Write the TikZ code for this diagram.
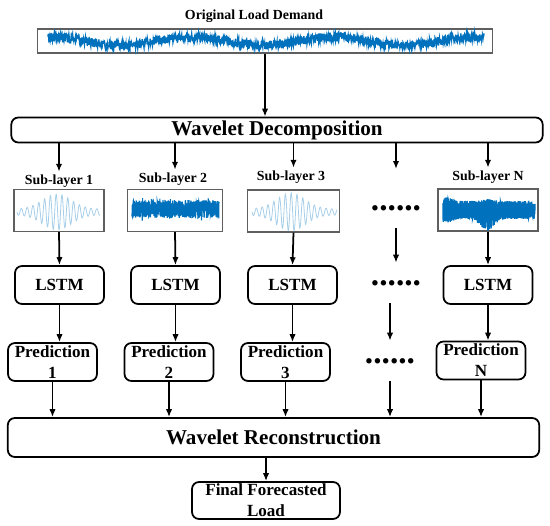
\documentclass[tikz,border=0pt]{standalone}
\usepackage{fontspec}
\setmainfont{Liberation Serif}
\usetikzlibrary{arrows.meta,positioning,calc}
\definecolor{sigblue}{RGB}{0,114,189}
\definecolor{sigframe}{RGB}{95,95,95}
\begin{document}
\begin{tikzpicture}[x=0.02cm,y=-0.02cm,font=\bfseries,
  rec/.style={draw,line width=1pt,rounded corners=4pt,inner sep=0pt,minimum width=1.78cm,minimum height=0.76cm,align=center,font=\fontsize{9.7}{11.9}\selectfont\bfseries},
  wide/.style={rec,minimum width=10.63cm,font=\fontsize{12}{14}\selectfont\bfseries},
  sigbox/.style={draw=sigframe,line width=0.6pt,inner sep=0pt,minimum height=0.84cm},
  lbl/.style={inner sep=1.5pt,font=\fontsize{7.9}{9.5}\selectfont\bfseries},
  dotrow/.style={inner sep=0pt,minimum height=0.8cm,font=\fontsize{19}{19}\selectfont\bfseries},
  arr/.style={line width=1pt,-{Latex[length=4.5pt,width=3.6pt]}}]
\useasboundingbox (0,0) rectangle (550,526);
\pgfmathsetseed{42}
\node[lbl] (title) at (254,16) {Original Load Demand};
\node[sigbox,minimum width=9.12cm,minimum height=0.48cm] (orig) at (265,41) {};
\node[wide,minimum height=0.5cm] (wd) at (277,130) {Wavelet Decomposition};
\node[lbl] (l1) at (59,181) {Sub-layer 1};
\node[lbl] (l2) at (173,179) {Sub-layer 2};
\node[lbl] (l3) at (291,177) {Sub-layer 3};
\node[lbl] (lN) at (488,177) {Sub-layer N};
\node[sigbox,minimum width=1.8cm] (s1) at (59,210.5) {};
\node[sigbox,minimum width=1.9cm] (s2) at (175,210.5) {};
\node[sigbox,minimum width=1.84cm] (s3) at (293.5,211) {};
\node[sigbox,minimum width=2cm] (sN) at (488,210) {};
\node[dotrow] (d1) at (396,208) {......};
\coordinate (c4) at (396,169);
\node[rec] (m1) at (59.5,285) {LSTM};
\node[rec] (m2) at (175.5,285) {LSTM};
\node[rec] (m3) at (292.5,285) {LSTM};
\node[dotrow] (d2) at (396,283) {......};
\node[rec] (mN) at (488,285) {LSTM};
\node[rec] (p1) at (52.5,362) {Prediction\\1};
\node[rec] (p2) at (169,362) {Prediction\\2};
\node[rec] (p3) at (285.5,362) {Prediction\\3};
\node[dotrow] (d3) at (390,361) {......};
\node[rec] (pN) at (481,360.5) {Prediction\\N};
\node[wide,minimum height=0.78cm] (wr) at (273.5,437.5) {Wavelet Reconstruction};
\node[rec,minimum width=2.96cm,minimum height=0.74cm] (fin) at (266,500.5) {Final Forecasted\\Load};

\draw[sigblue,line width=0.8pt] plot[domain=48:484,samples=1400] (\x,{41-4*cos((\x-48)*2.52)+4.5*rand});
\draw[sigblue!35,line width=0.45pt] plot[domain=17:100,samples=250,smooth] (\x,{212+(3+15*exp(-(((\x-57)/20)^2)))*sin((\x-17)*62)});
\draw[sigblue,line width=0.6pt] plot[domain=132:219,samples=900] (\x,{209+9*rand+7*rand*rnd^8});
\draw[sigblue!35,line width=0.45pt] plot[domain=252:337,samples=250,smooth] (\x,{212+(3+16*exp(-(((\x-291)/20)^2)))*sin((\x-252)*62)});
\draw[sigblue,line width=0.7pt] plot[domain=443:535,samples=1300] (\x,{210+5*exp(-(((\x-487)/9)^2))+(9+4*exp(-(((\x-447)/8)^2))+7*exp(-(((\x-487)/9)^2)))*rand});

\draw[arr] (orig.south) -- (orig.south |- wd.north);
\draw[arr] (wd.south -| s1) -- (s1 |- l1.north);
\draw[arr] (wd.south -| s2) -- (s2 |- l2.north);
\draw[arr] (wd.south -| s3) -- (s3 |- l3.north);
\draw[arr] (wd.south -| c4) -- (c4);
\draw[arr] (wd.south -| sN) -- (sN |- lN.north);
\draw[arr] (s1.south) -- (m1.north);
\draw[arr] (s2.south) -- (m2.north);
\draw[arr] (s3.south) -- (m3.north);
\draw[arr] (d1.south) -- (d2.north);
\draw[arr] (sN.south) -- (mN.north);
\draw[arr] (m1.south) -- (m1.south |- p1.north);
\draw[arr] (m2.south) -- (m2.south |- p2.north);
\draw[arr] (m3.south) -- (m3.south |- p3.north);
\draw[arr] (d2.south -| d3) -- (d3.north);
\draw[arr] (mN.south) -- (mN.south |- pN.north);
\draw[arr] (p1.south) -- (p1.south |- wr.north);
\draw[arr] (p2.south) -- (p2.south |- wr.north);
\draw[arr] (p3.south) -- (p3.south |- wr.north);
\draw[arr] (d3.south) -- (d3.south |- wr.north);
\draw[arr] (pN.south) -- (pN.south |- wr.north);
\draw[arr] (wr.south -| fin) -- (fin.north);
\end{tikzpicture}
\end{document}
